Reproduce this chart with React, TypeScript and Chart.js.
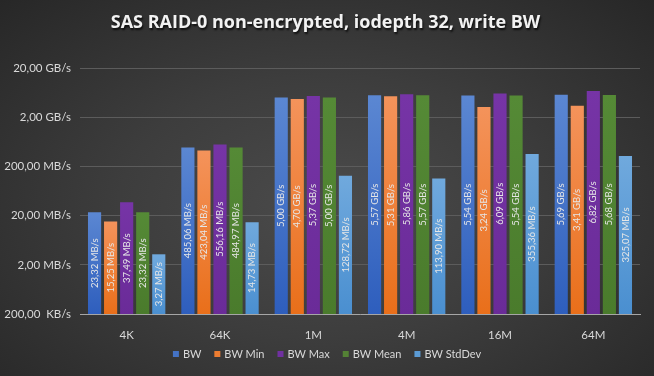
import React, { useEffect, useRef } from "react";
import { Chart, registerables } from "chart.js";

Chart.register(...registerables);

const categories = ["4K", "64K", "1M", "4M", "16M", "64M"];
// values in MB/s
const bwValues = [23.32, 485.06, 5000, 5570, 5540, 5690];
const bwMinValues = [15.25, 423.04, 4700, 5310, 3240, 3410];
const bwMaxValues = [37.49, 556.16, 5370, 5860, 6090, 6820];
const bwMeanValues = [23.32, 484.97, 5000, 5570, 5540, 5680];
const bwStdDevValues = [3.27, 14.73, 128.72, 113.9, 355.36, 325.07];
const seriesNames = ["BW", "BW Min", "BW Max", "BW Mean", "BW StdDev"];
const yTickValues = [0.2, 2, 20, 200, 2000, 20000];
const titleText = "SAS RAID-0 non-encrypted, iodepth 32, write BW";

const seriesColors = [
  { top: "#5b87d2", bottom: "#2e5ebd", solid: "#4472c4" },
  { top: "#f4935b", bottom: "#e96f1a", solid: "#ed7d31" },
  { top: "#7634a6", bottom: "#6a2b98", solid: "#7030a0" },
  { top: "#558a36", bottom: "#4a7b2c", solid: "#548235" },
  { top: "#70a9dd", bottom: "#4a8fd0", solid: "#5b9bd5" },
];

function fmtComma(n: number): string {
  return n.toFixed(2).replace(".", ",");
}

function formatRate(v: number): string {
  if (v >= 1000) return `${fmtComma(v / 1000)} GB/s`;
  if (v >= 1) return `${fmtComma(v)} MB/s`;
  return `${fmtComma(v * 1000)}  KB/s`;
}

const titlePlugin = {
  id: "customTitle",
  afterDraw(chart: any) {
    const ctx = chart.ctx;
    ctx.save();
    ctx.font = "bold 16px 'Open Sans'";
    const w = ctx.measureText(titleText).width;
    let size = 16;
    if (w > 0) size = Math.max(14, Math.min(18, (16 * 437) / w));
    ctx.font = `bold ${size.toFixed(2)}px 'Open Sans'`;
    ctx.textAlign = "center";
    ctx.textBaseline = "alphabetic";
    ctx.shadowColor = "rgba(0,0,0,0.75)";
    ctx.shadowOffsetX = 1;
    ctx.shadowOffsetY = 2;
    ctx.shadowBlur = 2;
    ctx.fillStyle = "#f2f2f2";
    ctx.fillText(titleText, chart.width / 2 - 1.5, 28);
    ctx.restore();
  },
};

const legendPlugin = {
  id: "customLegend",
  afterDraw(chart: any) {
    const ctx = chart.ctx;
    ctx.save();
    ctx.font = "11px Lato";
    ctx.textBaseline = "middle";
    ctx.textAlign = "left";
    const box = 6;
    const gapText = 4;
    const gapItem = 13;
    const widths = seriesNames.map((n) => box + gapText + ctx.measureText(n).width);
    const total = widths.reduce((a, b) => a + b, 0) + gapItem * (seriesNames.length - 1);
    let x = chart.width / 2 - total / 2;
    const cy = 354;
    seriesNames.forEach((n, i) => {
      ctx.fillStyle = seriesColors[i].solid;
      ctx.fillRect(x, cy - box / 2, box, box);
      ctx.fillStyle = "#d9d9d9";
      ctx.fillText(n, x + box + gapText, cy + 0.5);
      x += widths[i] + gapItem;
    });
    ctx.restore();
  },
};

const barLabelPlugin = {
  id: "barLabels",
  afterDatasetsDraw(chart: any) {
    const ctx = chart.ctx;
    ctx.save();
    ctx.font = "9.5px Lato";
    ctx.fillStyle = "#e6e6e6";
    ctx.textAlign = "center";
    ctx.textBaseline = "middle";
    chart.data.datasets.forEach((ds: any, i: number) => {
      const meta = chart.getDatasetMeta(i);
      meta.data.forEach((bar: any, j: number) => {
        const p = bar.getProps(["x", "y", "base"], true);
        const cy = (p.y + p.base) / 2;
        ctx.save();
        ctx.translate(p.x, cy);
        ctx.rotate(-Math.PI / 2);
        ctx.fillText(formatRate(ds.data[j]), 0, 0);
        ctx.restore();
      });
    });
    ctx.restore();
  },
};

function makeGradient(idx: number) {
  return (context: any) => {
    const chart = context.chart;
    const area = chart.chartArea;
    const c = seriesColors[idx];
    if (!area || context.raw === undefined) return c.solid;
    const y = chart.scales.y.getPixelForValue(context.raw);
    if (!isFinite(y)) return c.solid;
    const g = chart.ctx.createLinearGradient(0, y, 0, area.bottom);
    g.addColorStop(0, c.top);
    g.addColorStop(1, c.bottom);
    return g;
  };
}

export default function App() {
  const canvasRef = useRef<HTMLCanvasElement | null>(null);

  useEffect(() => {
    document.body.style.margin = "0";
    const canvas = canvasRef.current;
    if (!canvas) return;
    const allSeries = [bwValues, bwMinValues, bwMaxValues, bwMeanValues, bwStdDevValues];
    const chart = new Chart(canvas, {
      type: "bar",
      data: {
        labels: categories,
        datasets: allSeries.map((vals, i) => ({
          label: seriesNames[i],
          data: vals,
          backgroundColor: makeGradient(i),
          borderWidth: 0,
          categoryPercentage: 0.86,
          barPercentage: 0.82,
        })),
      },
      options: {
        responsive: false,
        animation: false,
        devicePixelRatio: 1,
        layout: { padding: { top: 68, right: 14, left: 0, bottom: 34 } },
        plugins: {
          title: { display: false },
          tooltip: { enabled: false },
          legend: { display: false },
        },
        scales: {
          x: {
            grid: { display: false, drawTicks: false },
            border: { display: true, color: "#a6a6a6", width: 1 },
            ticks: {
              color: "#d9d9d9",
              font: { family: "Lato", size: 11.5 },
              padding: 14,
            },
            afterFit: (scale: any) => {
              scale.height = 28;
            },
          },
          y: {
            type: "logarithmic",
            min: 0.2,
            max: 20000,
            grid: { color: "#5c5c5c", drawTicks: false, lineWidth: 1 },
            border: { display: false },
            ticks: {
              color: "#d9d9d9",
              font: { family: "Lato", size: 11.5 },
              padding: 9,
              callback: (v: any) => formatRate(Number(v)),
            },
            afterBuildTicks: (scale: any) => {
              scale.ticks = yTickValues.map((v) => ({ value: v }));
            },
            afterFit: (scale: any) => {
              scale.width = 80;
            },
          },
        },
      },
      plugins: [titlePlugin, barLabelPlugin, legendPlugin],
    } as any);
    return () => chart.destroy();
  }, []);

  return (
    <div
      style={{
        position: "fixed",
        left: 0,
        top: 0,
        width: 654,
        height: 376,
        background:
          "radial-gradient(ellipse at 50% 55%, #4b4b4b 0%, #3d3d3d 45%, #272727 100%)",
      }}
    >
      <canvas ref={canvasRef} width={654} height={376} style={{ display: "block" }} />
    </div>
  );
}
